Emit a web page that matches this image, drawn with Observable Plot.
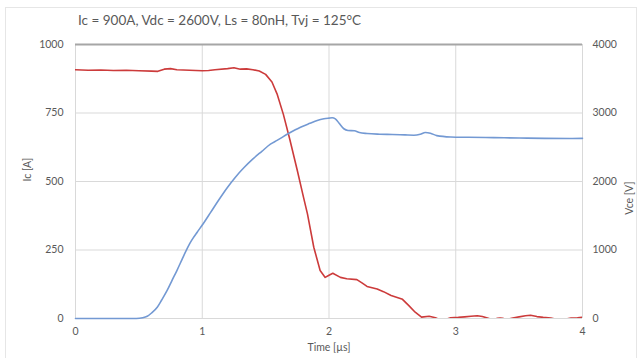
<!DOCTYPE html>
<html><head><meta charset="utf-8">
<script src="https://cdn.jsdelivr.net/npm/d3@7"></script>
<script src="https://cdn.jsdelivr.net/npm/@observablehq/plot@0.6"></script>
<style>
body{margin:0;background:#fff;}
#wrap{position:relative;width:641px;height:358px;overflow:hidden;font-family:Lato,sans-serif;background:#fff;}
#frame{position:absolute;left:5px;top:7px;width:630px;height:360px;border:1px solid #e6e6e6;}
#title{position:absolute;left:78px;top:12px;font-size:13.5px;color:#595959;white-space:nowrap;}
.layer{position:absolute;left:0;top:0;}
</style></head>
<body><div id="wrap"><div id="frame"></div><div id="title">Ic = 900A, Vdc = 2600V, Ls = 80nH, Tvj = 125°C</div></div>
<script>
const xTicks = [0, 1, 2, 3, 4];
const icTicks = [0, 250, 500, 750, 1000];
const vceTicks = [0, 1000, 2000, 3000, 4000];

const icTime = [0, 0.1, 0.2, 0.3, 0.4, 0.5, 0.6, 0.65, 0.7, 0.75, 0.8, 0.9, 1.0, 1.05, 1.1, 1.2, 1.25, 1.3, 1.35, 1.4, 1.45, 1.5, 1.55, 1.59, 1.64, 1.69, 1.75, 1.8, 1.83, 1.88, 1.93, 1.97, 2.0, 2.03, 2.09, 2.14, 2.22, 2.26, 2.3, 2.38, 2.43, 2.49, 2.55, 2.58, 2.63, 2.68, 2.73, 2.79, 2.84, 2.88, 2.93, 2.96, 3.02, 3.07, 3.12, 3.17, 3.21, 3.25, 3.29, 3.33, 3.35, 3.37, 3.40, 3.45, 3.5, 3.55, 3.59, 3.64, 3.69, 3.75, 3.8, 3.86, 3.91, 3.96, 4.0];
const icValues = [908, 906, 907, 905, 906, 904, 903, 902, 910, 912, 908, 906, 904, 905, 908, 912, 915, 910, 911, 908, 903, 891, 863, 820, 745, 655, 540, 440, 382, 260, 175, 150, 158, 165, 150, 145, 142, 130, 117, 108, 98, 84, 75, 70, 47, 23, 5, 8, 3, -6, -2, 3, 4, 6, 8, 10, 7, 2, -5, 1, 2, 1, -4, 2, 6, 10, 12, 7, 4, 2, -4, -3, 2, 3, 5];

const vceTime = [0, 0.48, 0.53, 0.566, 0.6, 0.645, 0.68, 0.723, 0.76, 0.8, 0.84, 0.87, 0.9, 0.93, 0.96, 1.01, 1.065, 1.13, 1.197, 1.26, 1.328, 1.4, 1.47, 1.538, 1.59, 1.68, 1.775, 1.85, 1.907, 1.96, 2.0, 2.025, 2.05, 2.08, 2.117, 2.15, 2.2, 2.24, 2.3, 2.4, 2.5, 2.6, 2.67, 2.72, 2.76, 2.8, 2.85, 2.96, 3.1, 3.3, 3.5, 3.7, 3.9, 4.0];
const vceValues = [0, 0, 10, 32, 80, 165, 270, 409, 550, 700, 860, 980, 1090, 1180, 1260, 1390, 1545, 1730, 1910, 2060, 2200, 2330, 2440, 2545, 2600, 2700, 2793, 2850, 2891, 2915, 2925, 2930, 2915, 2850, 2770, 2745, 2740, 2715, 2700, 2690, 2686, 2680, 2676, 2690, 2715, 2705, 2670, 2650, 2645, 2640, 2635, 2630, 2628, 2630];

const ic = icTime.map((t, i) => ({t, v: icValues[i]}));
const vce = vceTime.map((t, i) => ({t, v: vceValues[i]}));

const W = 641, H = 358;
const common = {
  width: W, height: H, marginLeft: 75, marginRight: 59, marginTop: 44, marginBottom: 40,
  style: {background: "transparent", fontFamily: "Lato, sans-serif", fontSize: "10.5px", color: "#595959", overflow: "visible"}
};

const p1 = Plot.plot({
  ...common,
  x: {domain: [0, 4]},
  y: {domain: [0, 1000]},
  marks: [
    Plot.gridX(xTicks, {stroke: "#d9d9d9", strokeOpacity: 1}),
    Plot.gridY(icTicks, {stroke: "#d9d9d9", strokeOpacity: 1}),
    Plot.ruleY([1000], {stroke: "#a6a6a6", strokeWidth: 2}),
    Plot.axisX(xTicks, {tickSize: 0, tickPadding: 9, tickFormat: d3.format("d"), label: "Time [µs]", labelAnchor: "center", labelArrow: "none", labelOffset: 32}),
    Plot.axisY(icTicks, {tickSize: 0, tickPadding: 12, tickFormat: d3.format("d"), label: null}),
    Plot.text(["Ic [A]"], {frameAnchor: "left", rotate: -90, dx: -48, fill: "#595959"}),
    Plot.line(ic, {x: "t", y: "v", stroke: "#cc3b3b", strokeWidth: 1.6, clip: true})
  ]
});

const p2 = Plot.plot({
  ...common,
  x: {domain: [0, 4], axis: null},
  y: {domain: [0, 4000]},
  marks: [
    Plot.axisY(vceTicks, {anchor: "right", tickSize: 0, tickPadding: 10, tickFormat: d3.format("d"), textAnchor: "start", label: null}),
    Plot.text(["Vce [V]"], {frameAnchor: "right", rotate: -90, dx: 47, fill: "#595959"}),
    Plot.line(vce, {x: "t", y: "v", stroke: "#7399d3", strokeWidth: 1.6, curve: "monotone-x"})
  ]
});

p1.classList.add("layer");
p2.classList.add("layer");
const wrap = document.getElementById("wrap");
wrap.appendChild(p1);
wrap.appendChild(p2);
</script>
</body></html>
